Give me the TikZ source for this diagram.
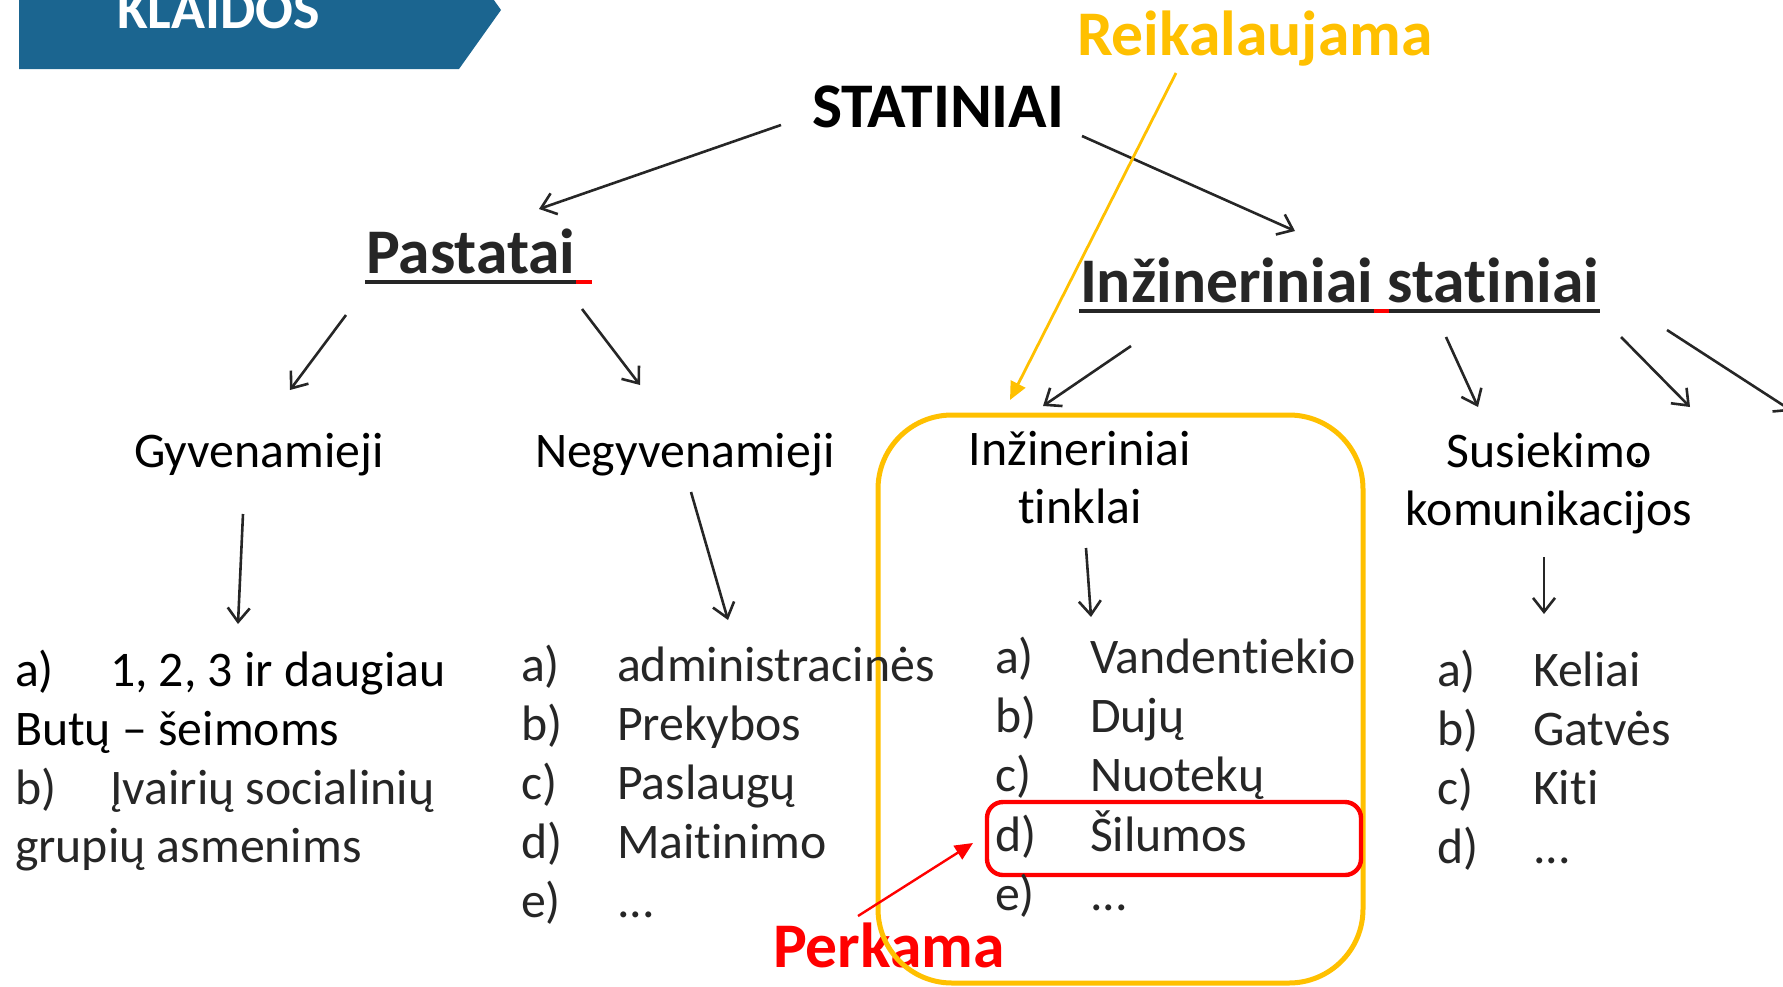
\documentclass[tikz,border=0pt]{standalone}
\usepackage{fontspec}
\setmainfont{Carlito}[Ligatures=NoCommon]
\usetikzlibrary{arrows.meta}
\definecolor{tgray}{HTML}{262626}
\definecolor{banner}{HTML}{1B6590}
\definecolor{gold}{HTML}{FFC000}
\definecolor{myred}{HTML}{FF0000}
\tikzset{
  body/.style={font=\fontsize{24.9}{29.5}\selectfont, inner sep=0pt, outer sep=0pt, text=black},
  head/.style={body, anchor=base west},
  chead/.style={body, anchor=base},
  item/.style={body, anchor=base west, text=tgray},
  title/.style={font=\fontsize{31.8}{36}\selectfont\bfseries, inner sep=0pt, outer sep=0pt, anchor=base west},
  conn/.style={draw=tgray, line width=1.3pt, -{Straight Barb[length=7pt,width=11pt]}},
  uline/.style={draw=tgray, line width=2pt},
  redmark/.style={draw=myred, line width=2pt},
}
\begin{document}
\begin{tikzpicture}[x=0.5pt,y=-0.5pt]
\useasboundingbox (0,0) rectangle (1783,986);
\clip (0,0) rectangle (1783,986);

% banner
\fill[banner] (19,-49) -- (459,-49) -- (501,10) -- (459,69) -- (19,69) -- cycle;
\node[title, text=white, font=\fontsize{28}{32}\selectfont\bfseries] (klaidos) at (117,28) {KLAIDOS};

% titles
\node[title, text=black] (stat) at (812,127) {STATINIAI};
\node[title, text=tgray] (past) at (366,273) {Pastatai};
\draw[uline] (365,282) -- (576,282);
\draw[redmark] (576,282) -- (592,282);
\node[title, text=tgray] (inz) at (1080,302) {Inžineriniai statiniai};
\draw[uline] (1079,311) -- (1600,311);
\draw[redmark] (1374,311) -- (1389,311);

\node[title, text=gold] (reik) at (1077,55) {Reikalaujama};
\node[title, text=myred] (perk) at (773,967) {Perkama};

% category heads
\node[head] (gyv) at (134,467) {Gyvenamieji};
\node[head] (negyv) at (535,467) {Negyvenamieji};
\node[chead] (tinkA) at (1080,465) {Inžineriniai};
\node[chead] (tinkB) at (1080,523) {tinklai};
\node[chead] (susA) at (1549,467) {Susiekimo};
\node[chead] (susB) at (1549,525) {komunikacijos};
\fill[black] (1638,461) circle (2.6);

% boxes
\draw[gold, line width=2.5pt, rounded corners=37pt] (878,415) rectangle (1363,983);
\draw[myred, line width=2.2pt, rounded corners=8pt] (987,802) rectangle (1361,875);

% Gyvenamieji list
\node[item, text=black] (g1a) at (15,686) {a)};
\node[item, text=black] (g1b) at (110,686) {1, 2, 3 ir daugiau};
\node[item, text=black] (g1c) at (15,745) {Butų – šeimoms};
\node[item] (g2a) at (15,804) {b)};
\node[item] (g2b) at (110,804) {Įvairių socialinių};
\node[item] (g2c) at (15,862) {grupių asmenims};

% Negyvenamieji list
\node[item] (n1a) at (521,681) {a)};
\node[item] (n1b) at (617,681) {administracinės};
\node[item] (n2a) at (521,740) {b)};
\node[item] (n2b) at (617,740) {Prekybos};
\node[item] (n3a) at (521,799) {c)};
\node[item] (n3b) at (617,799) {Paslaugų};
\node[item] (n4a) at (521,858) {d)};
\node[item] (n4b) at (617,858) {Maitinimo};
\node[item] (n5a) at (521,917) {e)};
\node[item] (n5b) at (617,917) {...};

% Tinklai list
\node[item] (t1a) at (995,673) {a)};
\node[item] (t1b) at (1090,673) {Vandentiekio};
\node[item] (t2a) at (995,732) {b)};
\node[item] (t2b) at (1090,732) {Dujų};
\node[item] (t3a) at (995,791) {c)};
\node[item] (t3b) at (1090,791) {Nuotekų};
\node[item] (t4a) at (995,851) {d)};
\node[item] (t4b) at (1090,851) {Šilumos};
\node[item] (t5a) at (995,910) {e)};
\node[item] (t5b) at (1090,910) {...};

% Susiekimo list
\node[item] (s1a) at (1437,686) {a)};
\node[item] (s1b) at (1533,686) {Keliai};
\node[item] (s2a) at (1437,745) {b)};
\node[item] (s2b) at (1533,745) {Gatvės};
\node[item] (s3a) at (1437,804) {c)};
\node[item] (s3b) at (1533,804) {Kiti};
\node[item] (s4a) at (1437,863) {d)};
\node[item] (s4b) at (1533,863) {...};

% connector end points
\coordinate (c1s) at (781,125);  \coordinate (c1e) at (539,209);
\coordinate (c2s) at (1082,136); \coordinate (c2e) at (1295,231);
\coordinate (c3s) at (346,315);  \coordinate (c3e) at (290,390);
\coordinate (c4s) at (582,309);  \coordinate (c4e) at (640,385);
\coordinate (c5s) at (1131,346); \coordinate (c5e) at (1043,406);
\coordinate (c6s) at (1446,337); \coordinate (c6e) at (1478,407);
\coordinate (c7s) at (1621,337); \coordinate (c7e) at (1690,407);
\coordinate (c8s) at (1667,330); \coordinate (c8e) at (1792,411);
\coordinate (c9s) at (243,514);  \coordinate (c9e) at (238,624);
\coordinate (c10s) at (691,492); \coordinate (c10e) at (728,620);
\coordinate (c11s) at (1086,548); \coordinate (c11e) at (1091,617);
\coordinate (c12s) at (1544,557); \coordinate (c12e) at (1544,614);
\coordinate (rs) at (1176,73);   \coordinate (re) at (1010,400);
\coordinate (ps) at (858,916);   \coordinate (pe) at (973,843);

\draw[conn] (c1s) -- (c1e);
\draw[conn] (c2s) -- (c2e);
\draw[conn] (c3s) -- (c3e);
\draw[conn] (c4s) -- (c4e);
\draw[conn] (c5s) -- (c5e);
\draw[conn] (c6s) -- (c6e);
\draw[conn] (c7s) -- (c7e);
\draw[conn] (c8s) -- (c8e);
\draw[conn] (c9s) -- (c9e);
\draw[conn] (c10s) -- (c10e);
\draw[conn] (c11s) -- (c11e);
\draw[conn] (c12s) -- (c12e);
\draw[gold, line width=1.4pt, -{Triangle[length=9pt,width=8pt]}] (rs) -- (re);
\draw[myred, line width=1.2pt, -{Triangle[length=9pt,width=8pt]}] (ps) -- (pe);
\end{tikzpicture}
\end{document}
